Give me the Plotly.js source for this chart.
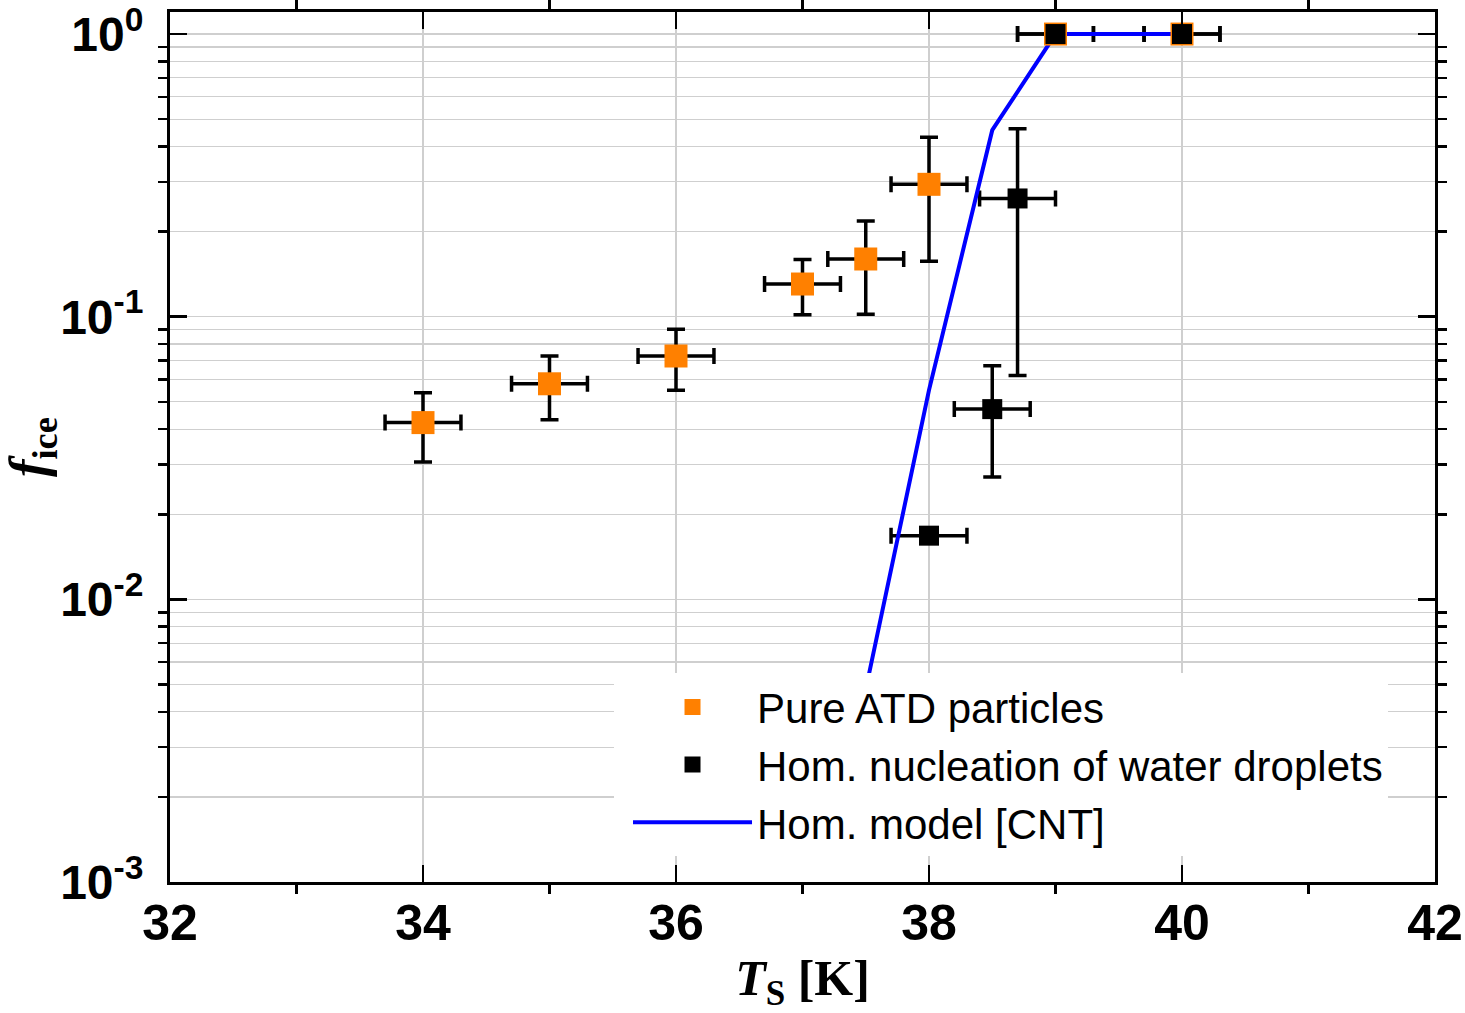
<!DOCTYPE html>
<html>
<head>
<meta charset="utf-8">
<script src="https://cdn.plot.ly/plotly-3.0.1.min.js"></script>
<style>html,body{margin:0;padding:0;background:#fff;}#chart{width:1465px;height:1013px;}</style>
</head>
<body>
<div id="chart"></div>
<script>
// Pure ATD particles
const atdT = [34, 35, 36, 37, 37.5, 38, 39, 40];
const atdF = [0.0422, 0.0579, 0.0726, 0.1305, 0.160, 0.294, 1.0, 1.0];
const atdErrF = [0.0116, 0.0147, 0.0177, 0.029, 0.058, 0.137, 0, 0];
const atdErrT = [0.3, 0.3, 0.3, 0.3, 0.3, 0.3, 0.3, 0.3];

// Hom. nucleation of water droplets
const homT = [38, 38.5, 38.7, 39, 40];
const homF = [0.0168, 0.0471, 0.262, 1.0, 1.0];
const homErrF = [0, 0.020, 0.200, 0, 0];
const homErrT = [0.3, 0.3, 0.3, 0.3, 0.3];

// Hom. model [CNT]
const cntT = [37.5, 38, 38.5, 39, 40];
const cntF = [0.0048, 0.055, 0.457, 1.0, 1.0];

const yMajor = [0.001, 0.01, 0.1, 1];
const yMajorText = ['10<sup>-3</sup>', '10<sup>-2</sup>', '10<sup>-1</sup>', '10<sup>0</sup>'];
const yMinor = [];
[0.001, 0.01, 0.1, 1].forEach(d => { for (let k = 2; k <= 9; k++) yMinor.push(d * k); });
const xMajor = [32, 34, 36, 38, 40, 42];
const xMinor = [33, 35, 37, 39, 41];

const orange = '#FF8000';
const errStyle = (arr) => ({type: 'data', array: arr, symmetric: true, color: '#000', thickness: 3.5, width: 9});
const errStyleX = (arr) => ({type: 'data', array: arr, symmetric: true, color: '#000', thickness: 3.5, width: 8});

const traces = [
  {x: atdT, y: atdF, mode: 'markers', type: 'scatter', showlegend: false, hoverinfo: 'skip',
   marker: {size: 1, color: 'rgba(0,0,0,0)'}, error_y: errStyle(atdErrF), error_x: errStyleX(atdErrT)},
  {x: homT, y: homF, mode: 'markers', type: 'scatter', showlegend: false, hoverinfo: 'skip',
   marker: {size: 1, color: 'rgba(0,0,0,0)'}, error_y: errStyle(homErrF), error_x: errStyleX(homErrT)},
  {x: cntT, y: cntF, mode: 'lines', type: 'scatter', name: 'Hom. model [CNT]', legendrank: 3,
   line: {color: '#0000FF', width: 4}},
  {x: atdT, y: atdF, mode: 'markers', type: 'scatter', name: 'Pure ATD particles', legendrank: 1,
   marker: {symbol: 'square', size: 23, color: orange}},
  {x: homT, y: homF, mode: 'markers', type: 'scatter', name: 'Hom. nucleation of water droplets', legendrank: 2,
   marker: {symbol: 'square', size: 20, color: '#000'}}
];

const axisCommon = {
  showline: true, linecolor: '#000', linewidth: 3, mirror: 'ticks',
  ticks: 'inside', tickcolor: '#000', tickwidth: 2.5, ticklen: 17,
  gridcolor: '#cfcfcf', gridwidth: 1.2, zeroline: false,
  tickfont: {family: 'Arial, "Liberation Sans", sans-serif', size: 50, weight: 'bold', color: '#000'}
};

const layout = {
  width: 1465, height: 1013,
  margin: {l: 170, r: 30, t: 12, b: 131},
  paper_bgcolor: '#fff', plot_bgcolor: '#fff',
  showlegend: true,
  xaxis: Object.assign({}, axisCommon, {
    range: [32, 42], tickmode: 'array', tickvals: xMajor, ticktext: xMajor.map(String),
    ticklabelstandoff: -5,
    minor: {tickmode: 'array', tickvals: xMinor, ticklen: 9, tickwidth: 2.5, tickcolor: '#000', showgrid: false},
    title: {text: '<i>T</i><sub>S</sub> [K]', standoff: 20,
      font: {family: '"Times New Roman", "Liberation Serif", serif', size: 50, weight: 'bold', color: '#000'}}
  }),
  yaxis: Object.assign({}, axisCommon, {
    type: 'log', range: [-3, 0.078], tickmode: 'array', tickvals: yMajor, ticktext: yMajorText,
    tickfont: {family: 'Arial, "Liberation Sans", sans-serif', size: 48, weight: 'bold', color: '#000'},
    ticklabelstandoff: 14,
    minor: {tickmode: 'array', tickvals: yMinor, ticklen: 9, tickwidth: 2.5, tickcolor: '#000',
      showgrid: true, gridcolor: '#cfcfcf', gridwidth: 1.2},
    title: {text: '<i>f</i><sub>ice</sub>', standoff: 12,
      font: {family: '"Times New Roman", "Liberation Serif", serif', size: 52, weight: 'bold', color: '#000'}}
  }),
  legend: {
    x: 0.351, y: 0.24, xanchor: 'left', yanchor: 'top',
    bgcolor: '#fff', borderwidth: 0, itemwidth: 119, indentation: 14,
    font: {family: 'Arial, "Liberation Sans", sans-serif', size: 42, color: '#000'},
    traceorder: 'normal'
  }
};

Plotly.newPlot('chart', traces, layout, {staticPlot: true, displayModeBar: false});
</script>
</body>
</html>
